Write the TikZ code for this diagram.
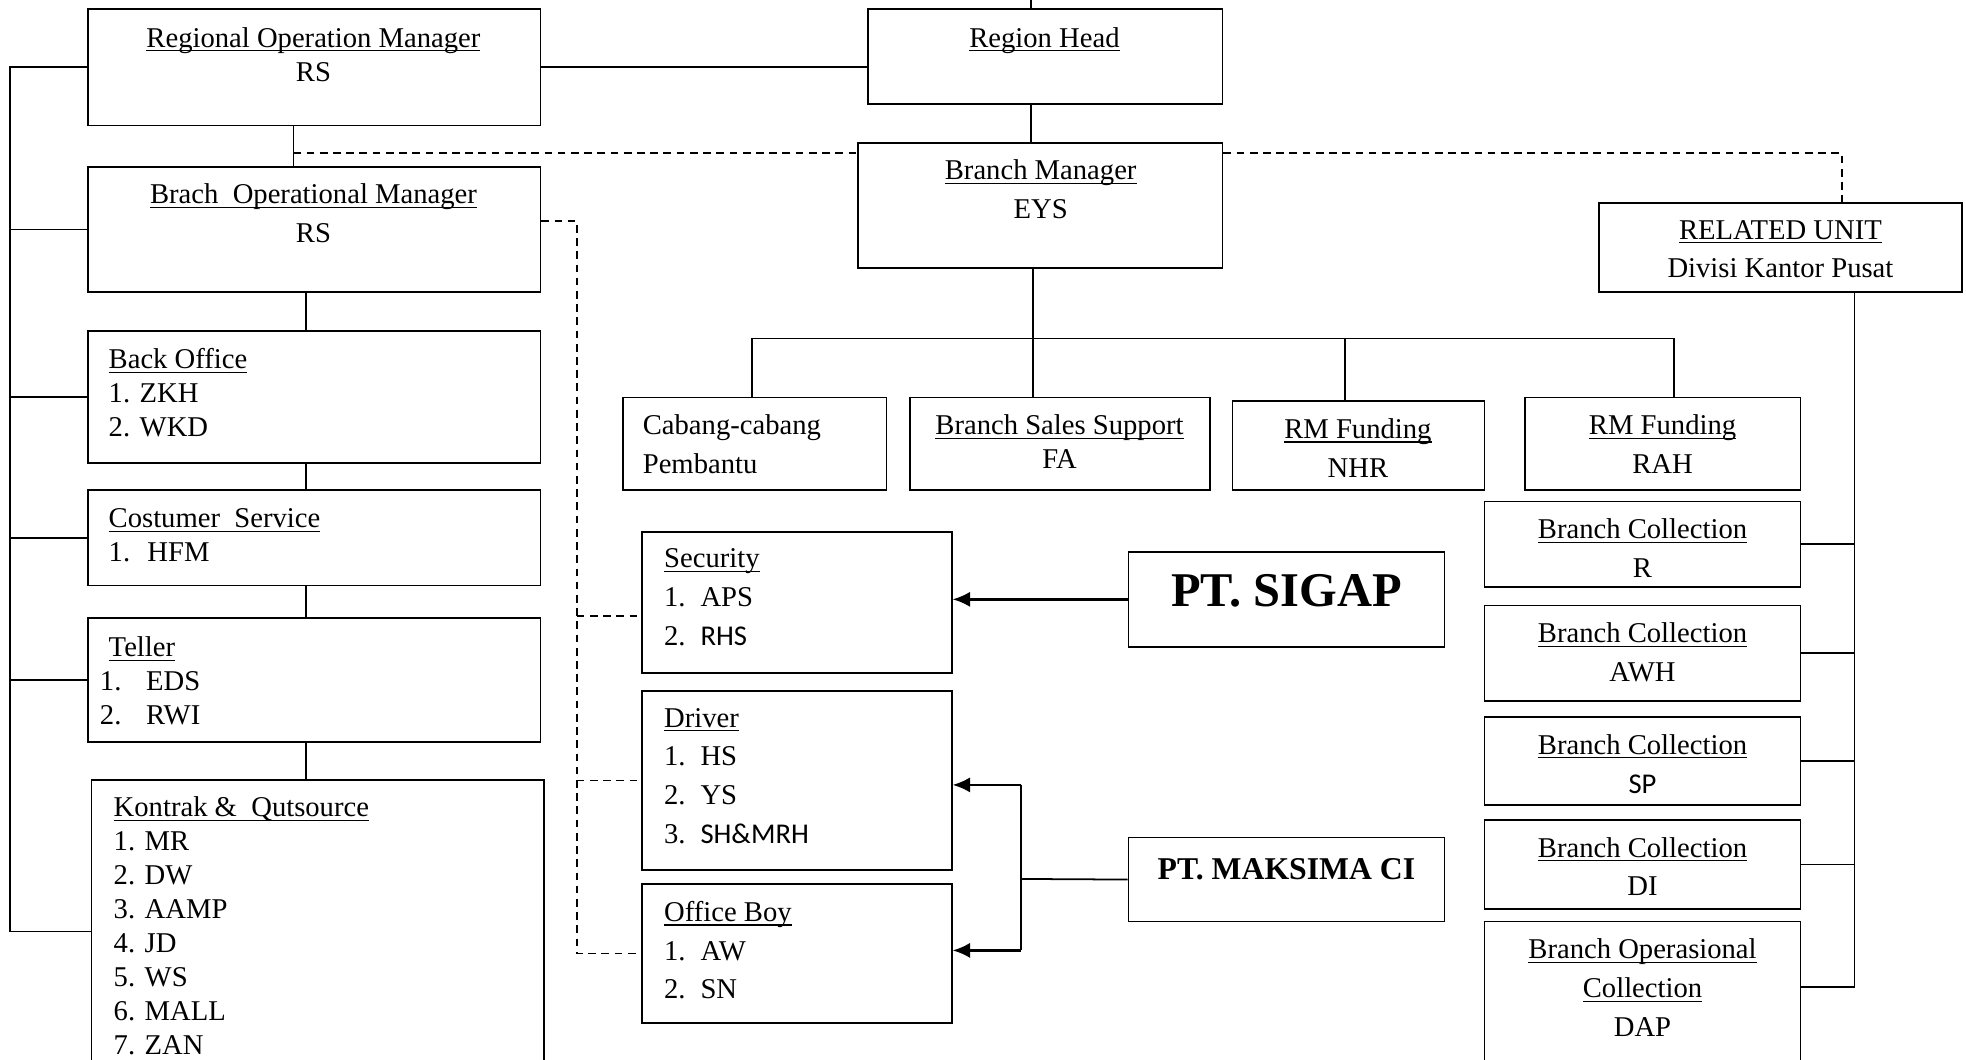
\documentclass[tikz,border=0pt]{standalone}
\usepackage{amsmath}
\usepackage{fontspec}
\setmainfont{Liberation Serif}
\newfontfamily\calfont{Carlito}
\usetikzlibrary{fit,arrows.meta}
\newcommand\undl[1]{\underline{\smash[b]{#1}}}
\newcommand\numit[3]{\makebox[#1][l]{#2}{#3}}
\begin{document}
\begin{tikzpicture}[x=0.02cm, y=-0.02cm, line width=0.8pt,
    box/.style={draw, inner sep=0pt},
    tight/.style={inner sep=0pt, font=\fontsize{13}{15.4}\selectfont},
    loose/.style={inner sep=0pt, font=\fontsize{13}{17.6}\selectfont},
    dashline/.style={dash pattern=on 3.5pt off 2.5pt},
    arr/.style={line width=1.2pt, -{Latex[length=8pt,width=7pt]}}]
  \clip (0,0) rectangle (1568,845);
  % boxes
  \node[box, fit={(70,7) (431,100)}] (rom) {};
  \node[box, fit={(692,7) (975,83)}] (rh) {};
  \node[box, fit={(70,133) (431,233)}] (bom) {};
  \node[box, fit={(684,114) (975,214)}] (bm) {};
  \node[box, fit={(1275,162) (1565,233)}] (rel) {};
  \node[box, fit={(70,264) (431,369)}] (bo) {};
  \node[box, fit={(70,391) (431,467)}] (cs) {};
  \node[box, fit={(70,493) (431,592)}] (tel) {};
  \node[box, fit={(73,622) (434,870)}] (kon) {};
  \node[box, fit={(497,317) (707,391)}] (cb) {};
  \node[box, fit={(726,317) (965,391)}] (bss) {};
  \node[box, fit={(983,320) (1184,391)}] (nhr) {};
  \node[box, fit={(1216,317) (1436,391)}] (rah) {};
  \node[box, fit={(1184,400) (1436,468)}] (bc1) {};
  \node[box, fit={(1184,483) (1436,559)}] (bc2) {};
  \node[box, fit={(1184,572) (1436,642)}] (bc3) {};
  \node[box, fit={(1184,654) (1436,725)}] (bc4) {};
  \node[box, fit={(1184,735) (1436,870)}] (boc) {};
  \node[box, fit={(512,424) (759,537)}] (sec) {};
  \node[box, fit={(512,551) (759,694)}] (drv) {};
  \node[box, fit={(512,705) (759,816)}] (ob) {};
  \node[box, fit={(900,440) (1152,516)}] (sig) {};
  \node[box, fit={(900,668) (1152,735)}] (mks) {};
  % texts
  \node[tight, anchor=north, align=center] (romt) at (250,21) {\undl{Regional Operation Manager}\\RS};
  \node[tight, anchor=north] (rht) at (833,21) {\undl{Region Head}};
  \node[loose, anchor=north, align=center] (bomt) at (250,146) {\undl{Brach\ \ Operational Manager}\\RS};
  \node[loose, anchor=north, align=center] (bmt) at (830,127) {\undl{Branch Manager}\\EYS};
  \node[loose, anchor=north, align=center] (relt) at (1420,175) {\undl{RELATED UNIT}\\Divisi Kantor Pusat};
  \node[loose, anchor=north west, align=left] (cbt) at (512,330) {Cabang-cabang\\Pembantu};
  \node[tight, anchor=north, align=center] (bsst) at (845,330) {\undl{Branch Sales Support}\\FA};
  \node[loose, anchor=north, align=center] (nhrt) at (1083,333) {\undl{RM Funding}\\NHR};
  \node[loose, anchor=north, align=center] (raht) at (1326,330) {\undl{RM Funding}\\RAH};
  \node[loose, anchor=north, align=center] (bc1t) at (1310,413) {\undl{Branch Collection}\\R};
  \node[loose, anchor=north, align=center] (bc2t) at (1310,496) {\undl{Branch Collection}\\AWH};
  \node[loose, anchor=north, align=center] (bc3t) at (1310,585) {\undl{Branch Collection}\\{\calfont SP}};
  \node[loose, anchor=north, align=center] (bc4t) at (1310,667) {\undl{Branch Collection}\\DI};
  \node[loose, anchor=north, align=center] (boct) at (1310,748) {\undl{Branch Operasional}\\\undl{Collection}\\DAP};
  \node[tight, anchor=north west, align=left] (bot) at (86,277) {\undl{Back Office}\\1. ZKH\\2. WKD};
  \node[tight, anchor=north west, align=left] (cst) at (86,405) {\undl{Costumer\ \ Service}\\\numit{17.6pt}{1.}{HFM}};
  \node[tight, anchor=north west, align=left] (telt) at (79,507) {\hspace*{4pt}\undl{Teller}\\\numit{21pt}{1.}{EDS}\\\numit{21pt}{2.}{RWI}};
  \node[tight, anchor=north west, align=left] (kont) at (90,635) {\undl{Kontrak \&\ \ Qutsource}\\1. MR\\2. DW\\3. AAMP\\4. JD\\5. WS\\6. MALL\\7. ZAN};
  \node[loose, anchor=north west, align=left] (sect) at (529,437) {\undl{Security}\\\numit{16.5pt}{1.}{APS}\\\numit{16.5pt}{2.}{\calfont RHS}};
  \node[loose, anchor=north west, align=left] (drvt) at (529,564) {\undl{Driver}\\\numit{16.5pt}{1.}{HS}\\\numit{16.5pt}{2.}{YS}\\\numit{16.5pt}{3.}{\calfont SH\&MRH}};
  \node[loose, anchor=north west, align=left] (obt) at (529,718) {\undl{Office Boy}\\\numit{16.5pt}{1.}{AW}\\\numit{16.5pt}{2.}{SN}};
  \node[font=\fontsize{22}{26}\selectfont\bfseries] (sigt) at (1026,471) {PT. SIGAP};
  \node[font=\fontsize{14.4}{17}\selectfont\bfseries] (mkst) at (1026,693) {PT. MAKSIMA CI};
  % solid lines
  \coordinate (top) at (822,0);
  \draw (top) -- (top |- rh.north);
  \draw (rh.south -| top) -- (bm.north -| top);
  \draw (rom.east) -- (rom.east -| rh.west);
  \coordinate (kl) at (8,743);
  \draw (rom.west) -| (kl) -- (kl -| kon.west);
  \foreach \b in {bom,bo,cs,tel}
    \draw (\b.west) -- (\b.west -| kl);
  \coordinate (rs) at (234,0);
  \draw (rom.south -| rs) -- (bom.north -| rs);
  \coordinate (ls) at (244,0);
  \foreach \a/\b in {bom/bo,bo/cs,cs/tel,tel/kon}
    \draw (\a.south -| ls) -- (\b.north -| ls);
  \coordinate (bus) at (824,270);
  \coordinate (b1) at (600,270);
  \coordinate (b4) at (1335,270);
  \coordinate (b3) at (1073,270);
  \draw (bm.south -| bus) -- (bss.north -| bus);
  \draw (b1 |- cb.north) -- (b1) -- (b4) -- (b4 |- rah.north);
  \draw (b3) -- (nhr.north -| b3);
  \coordinate (rv) at (1479,787);
  \draw (rel.south -| rv) -- (rv) -- (rv -| boc.east);
  \foreach \b in {bc1,bc2,bc3,bc4}
    \draw (\b.east) -- (\b.east -| rv);
  % dashed lines
  \coordinate (dl) at (234,122);
  \coordinate (dr) at (1469,122);
  \draw[dashline] (dl) -- (dl -| bm.west);
  \draw[dashline] (dl -| bm.east) -- (dr) -- (dr |- rel.north);
  \coordinate (dv) at (460,176);
  \coordinate (ds) at (460,491);
  \draw[dashline] (bom.east |- dv) -- (dv) -- (dv |- ob.west) -- (ob.west);
  \draw[dashline] (ds) -- (ds -| sec.west);
  \draw[dashline] (drv.west -| dv) -- (drv.west);
  % arrows
  \draw[arr] (sig.west) -- (sig.west -| sec.east);
  \coordinate (mv) at (814,701);
  \coordinate (m1) at (814,626);
  \coordinate (m2) at (814,758);
  \draw (mks.west) -- (mv);
  \draw (m1) -- (m2);
  \draw[arr] (m1) -- (m1 -| drv.east);
  \draw[arr] (m2) -- (m2 -| ob.east);
\end{tikzpicture}
\end{document}
